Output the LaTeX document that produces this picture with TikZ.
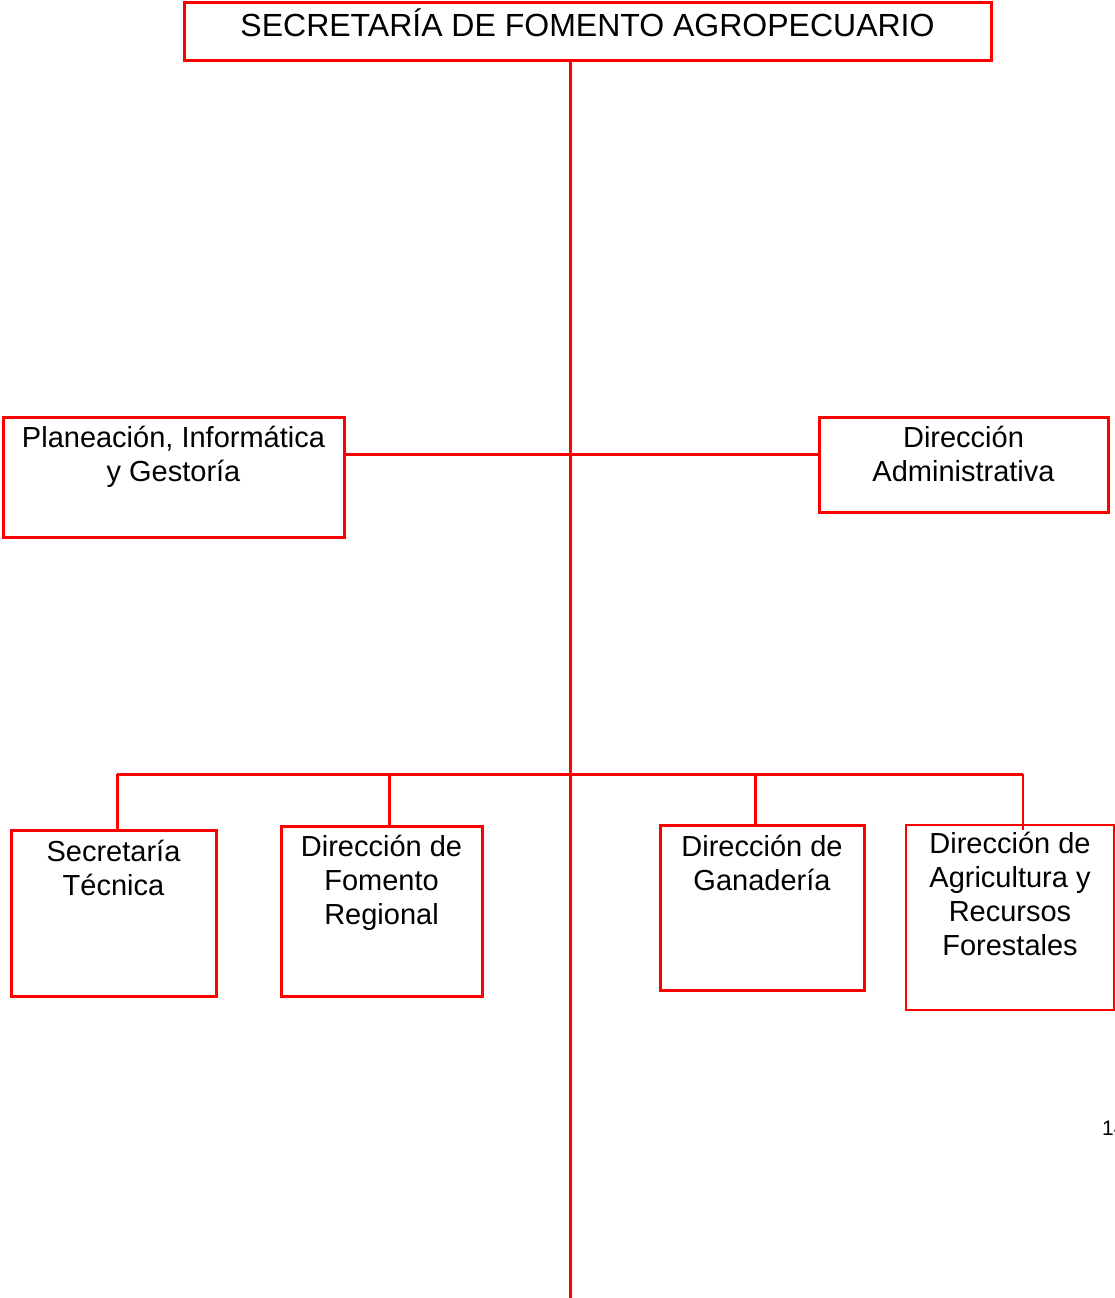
\documentclass[tikz,border=0pt]{standalone}
\usepackage{fontspec}
\setmainfont{Liberation Sans}
\begin{document}
\begin{tikzpicture}[x=1pt,y=-1pt,
  box/.style={draw=red, line width=3pt, inner sep=0pt, outer sep=0pt, fill=white},
  thinbox/.style={box, line width=1.6pt},
  conn/.style={draw=red, line width=3pt},
  lbl/.style={align=center, inner sep=0pt, anchor=base, font=\fontsize{29}{34}\selectfont}]
\useasboundingbox (0,0) rectangle (1115,1298);
% boxes
\node[box, minimum width=807pt, minimum height=58pt] (top) at (587.5,32) {};
\node[box, minimum width=341pt, minimum height=120pt] (plan) at (173.5,477) {};
\node[box, minimum width=289pt, minimum height=95pt] (adm) at (963.5,464.5) {};
\node[box, minimum width=205pt, minimum height=166pt] (st) at (113.5,913) {};
\node[box, minimum width=201pt, minimum height=170pt] (fr) at (381.5,911) {};
\node[box, minimum width=204pt, minimum height=165pt] (gan) at (762,907.5) {};
\node[thinbox, minimum width=208pt, minimum height=185pt] (agr) at (1010,917.5) {};
% connector points
\coordinate (bot) at (570,1298);
\coordinate (hub) at (570,454);
\coordinate (bus) at (570,774);
\coordinate (busL) at (117,774);
\coordinate (busR) at (1023,774);
% connectors
\draw[conn] (570,60) -- (bot);
\draw[conn] (plan.east |- hub) -- (adm.west |- hub);
\draw[conn] (busL) -- (busR);
\draw[conn] (busL) -- (busL |- st.north);
\draw[conn] (389,774) -- (389,826);
\draw[conn] (755,774) -- (755,825);
\draw[conn, line width=2.5pt] (busR) -- (1023,830);
% labels
\node[lbl, font=\fontsize{32}{38}\selectfont] (tt) at (587.5,37) {SECRETARÍA DE FOMENTO AGROPECUARIO};
\node[lbl] (tplan) at (173.5,481) {Planeación, Informática\\y Gestoría};
\node[lbl] (tadm) at (963.5,481) {Dirección\\Administrativa};
\node[lbl] (tst) at (113.5,895) {Secretaría\\Técnica};
\node[lbl] (tfr) at (381.5,924) {Dirección de\\Fomento\\Regional};
\node[lbl] (tgan) at (762,890) {Dirección de\\Ganadería};
\node[lbl] (tagr) at (1010,955) {Dirección de\\Agricultura y\\Recursos\\Forestales};
\node[inner sep=0pt, anchor=base west, font=\fontsize{21}{25}\selectfont] (pg) at (1102,1135) {14};
\end{tikzpicture}
\end{document}
